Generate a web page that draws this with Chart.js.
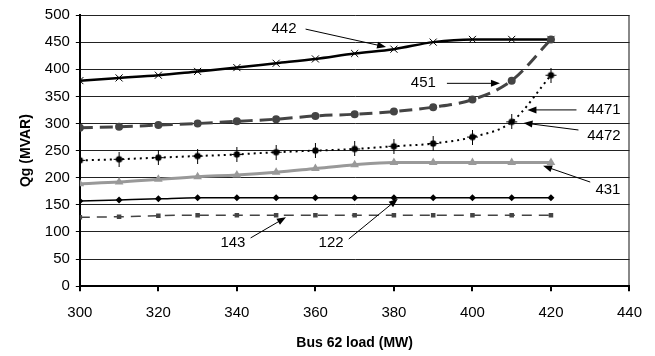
<!DOCTYPE html>
<html>
<head>
<meta charset="utf-8">
<script src="https://cdn.jsdelivr.net/npm/chart.js@4/dist/chart.umd.min.js"></script>
<style>
  html, body { margin: 0; padding: 0; background: #fff; }
  #wrap { width: 655px; height: 356px; position: relative; }
</style>
</head>
<body>
<div id="wrap"><canvas id="qgChart"></canvas></div>
<script>
// ================= DATA =================
const loads = [300, 310, 320, 330, 340, 350, 360, 370, 380, 390, 400, 410, 420];

const q442  = [379, 384, 389, 396, 403, 411, 419, 429, 437, 450, 455, 455, 455];
const q451  = [292, 294, 297, 300, 304, 308, 314, 317, 322, 330, 344, 379, 455];
const q4472 = [232, 234, 237, 240, 243, 247, 250, 253, 258, 263, 275, 303, 389];
const q431  = [189, 192, 197, 202, 205, 210, 217, 224, 228, 228, 228, 228, 228];
const q122  = [157, 159, 161, 163, 163, 163, 163, 163, 163, 163, 163, 163, 163];
const q143  = [127, 128, 130, 131, 131, 131, 131, 131, 131, 131, 131, 131, 131];

const xTicks = [300, 320, 340, 360, 380, 400, 420, 440];
const yTicks = [0, 50, 100, 150, 200, 250, 300, 350, 400, 450, 500];

// callout labels, in data units (load, Qg)
const noteText = ["442", "451", "4471", "4472", "431", "143", "122"];
const noteAt   = [[352, 474], [387.5, 374], [433.5, 325], [433.5, 277], [434.5, 177], [339, 79], [364, 79]];
const noteFrom = [[357.5, 474], [393.5, 374], [426.5, 325], [427, 288], [430, 192], [343.5, 89], [368.5, 87]];
const noteTo   = [[378, 441], [407, 374], [414, 325], [413, 301], [418, 222], [352.5, 127], [381, 161]];

function pairs(ys) {
  return loads.map((x, i) => ({ x: x, y: ys[i] }));
}

// dot with a plus through it, for the 4472 series
function plusDot() {
  const c = document.createElement("canvas");
  c.width = 13; c.height = 15;
  const g = c.getContext("2d");
  g.strokeStyle = "#000";
  g.lineWidth = 1;
  g.beginPath();
  g.moveTo(6.5, 0); g.lineTo(6.5, 15);
  g.moveTo(1, 7.5); g.lineTo(12, 7.5);
  g.stroke();
  g.fillStyle = "#000";
  g.beginPath();
  g.arc(6.5, 7.5, 3.2, 0, Math.PI * 2);
  g.fill();
  return c;
}

// ================= CALLOUTS =================
const callouts = {
  id: "callouts",
  afterDatasetsDraw(chart) {
    const ctx = chart.ctx;
    const xs = chart.scales.x, ys = chart.scales.y;
    ctx.save();
    ctx.font = "15px 'Liberation Sans', Arial, sans-serif";
    ctx.fillStyle = "#000";
    ctx.strokeStyle = "#000";
    ctx.textAlign = "center";
    ctx.textBaseline = "middle";
    noteText.forEach((t, i) => {
      ctx.fillText(t, xs.getPixelForValue(noteAt[i][0]), ys.getPixelForValue(noteAt[i][1]));

      const x1 = xs.getPixelForValue(noteFrom[i][0]), y1 = ys.getPixelForValue(noteFrom[i][1]);
      const x2 = xs.getPixelForValue(noteTo[i][0]),   y2 = ys.getPixelForValue(noteTo[i][1]);
      const a = Math.atan2(y2 - y1, x2 - x1);
      ctx.lineWidth = 1;
      ctx.beginPath();
      ctx.moveTo(x1, y1);
      ctx.lineTo(x2 - 6 * Math.cos(a), y2 - 6 * Math.sin(a));
      ctx.stroke();
      // arrow head
      ctx.beginPath();
      ctx.moveTo(x2, y2);
      ctx.lineTo(x2 - 9 * Math.cos(a) + 3.5 * Math.sin(a), y2 - 9 * Math.sin(a) - 3.5 * Math.cos(a));
      ctx.lineTo(x2 - 9 * Math.cos(a) - 3.5 * Math.sin(a), y2 - 9 * Math.sin(a) + 3.5 * Math.cos(a));
      ctx.closePath();
      ctx.fill();
    });
    ctx.restore();
  }
};

// ================= CHART =================
Chart.defaults.font.family = "'Liberation Sans', Arial, sans-serif";
Chart.defaults.color = "#000";

new Chart(document.getElementById("qgChart"), {
  type: "line",
  data: {
    datasets: [
      {
        label: "451", data: pairs(q451),
        borderColor: "#444", backgroundColor: "#444", borderWidth: 3, borderDash: [13, 7],
        pointStyle: "circle", pointRadius: 4, pointBorderWidth: 0
      },
      {
        label: "442", data: pairs(q442),
        borderColor: "#000", backgroundColor: "#000", borderWidth: 2.5,
        pointStyle: "crossRot", pointRadius: 5, pointBorderWidth: 1
      },
      {
        label: "4472", data: pairs(q4472),
        borderColor: "#000", borderWidth: 2, borderDash: [2, 4],
        pointStyle: plusDot(), pointRadius: 6
      },
      {
        label: "431", data: pairs(q431),
        borderColor: "#999", backgroundColor: "#999", borderWidth: 3,
        pointStyle: "triangle", pointRadius: 5, pointBorderWidth: 0
      },
      {
        label: "122", data: pairs(q122),
        borderColor: "#000", backgroundColor: "#000", borderWidth: 1.5,
        pointStyle: "rectRot", pointRadius: 3.5, pointBorderWidth: 0
      },
      {
        label: "143", data: pairs(q143),
        borderColor: "#444", backgroundColor: "#444", borderWidth: 1.5, borderDash: [10, 7],
        pointStyle: "rect", pointRadius: 3.2, pointBorderWidth: 0
      }
    ]
  },
  options: {
    responsive: true,
    maintainAspectRatio: false,
    animation: false,
    cubicInterpolationMode: "monotone",
    layout: { padding: { left: 14, right: 22, top: 8, bottom: 0 } },
    plugins: {
      legend: { display: false },
      tooltip: { enabled: false }
    },
    scales: {
      x: {
        type: "linear",
        min: 300, max: 440,
        afterBuildTicks: axis => { axis.ticks = xTicks.map(v => ({ value: v })); },
        border: { color: "#000", width: 2 },
        grid: {
          color: c => (c.tick && c.tick.value === 440 ? "#888" : "transparent"),
          lineWidth: 2,
          tickColor: "#000",
          tickLength: 5
        },
        ticks: { font: { size: 15 }, padding: 13 },
        title: {
          display: true, text: "Bus 62 load (MW)",
          font: { size: 14, weight: "bold" }, padding: { top: 0, bottom: 4 }
        }
      },
      y: {
        min: 0, max: 500,
        afterBuildTicks: axis => { axis.ticks = yTicks.map(v => ({ value: v })); },
        border: { color: "#000", width: 2 },
        grid: { color: "#222", lineWidth: 1, tickColor: "#000", tickLength: 4 },
        ticks: { font: { size: 15 }, padding: 6 },
        title: {
          display: true, text: "Qg (MVAR)",
          font: { size: 14, weight: "bold" }, padding: { bottom: 4 }
        }
      }
    }
  },
  plugins: [callouts]
});
</script>
</body>
</html>
